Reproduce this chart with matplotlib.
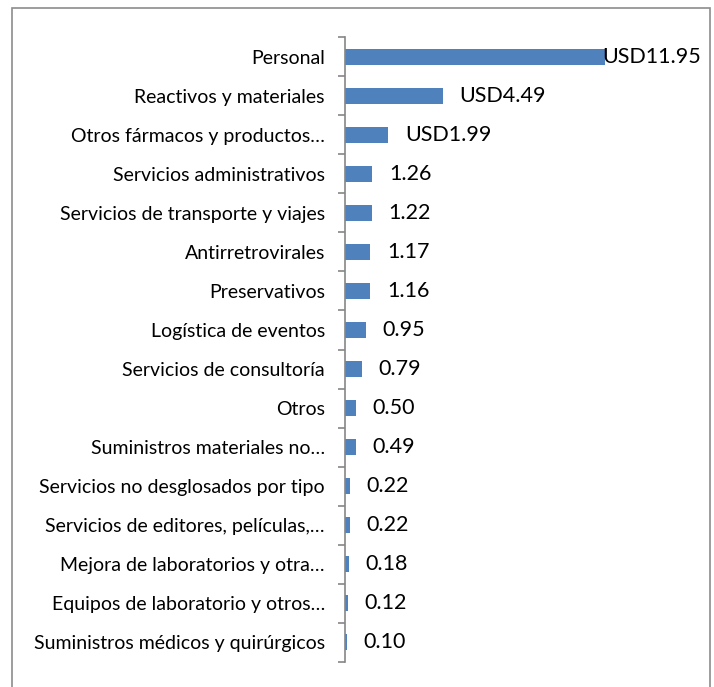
import matplotlib
matplotlib.use('Agg')
import matplotlib.pyplot as plt
from matplotlib.patches import Rectangle

categorias = [
    'Personal',
    'Reactivos y materiales',
    'Otros fármacos y productos…',
    'Servicios administrativos',
    'Servicios de transporte y viajes',
    'Antirretrovirales',
    'Preservativos',
    'Logística de eventos',
    'Servicios de consultoría',
    'Otros',
    'Suministros materiales no…',
    'Servicios no desglosados por tipo',
    'Servicios de editores, películas,…',
    'Mejora de laboratorios y otra…',
    'Equipos de laboratorio y otros…',
    'Suministros médicos y quirúrgicos',
]
valores = [11.95, 4.49, 1.99, 1.26, 1.22, 1.17, 1.16, 0.95, 0.79, 0.50, 0.49, 0.22, 0.22, 0.18, 0.12, 0.10]
etiquetas = ['USD11.95', 'USD4.49', 'USD1.99', '1.26', '1.22', '1.17', '1.16', '0.95',
             '0.79', '0.50', '0.49', '0.22', '0.22', '0.18', '0.12', '0.10']

plt.rcParams['font.family'] = ['Lato', 'DejaVu Sans']

fig = plt.figure(figsize=(7.14, 6.87), dpi=100)
ax = fig.add_axes([345 / 714, 1 - 662 / 687, 326 / 714, 625 / 687])

n = len(categorias)
pos = list(range(n))
ax.barh(pos, valores, height=0.41, color='#4F81BD')
ax.set_ylim(n - 0.5, -0.5)
ax.set_xlim(0, 15)

ax.set_yticks(pos)
ax.set_yticklabels(categorias, fontsize=14, color='#000000')
ax.tick_params(axis='y', which='major', length=0, pad=14.5)
ax.set_yticks([p - 0.5 for p in pos] + [n - 0.5], minor=True)
ax.tick_params(axis='y', which='minor', length=5, width=1.2, color='#868686')
ax.set_xticks([])

for s in ['top', 'right', 'bottom']:
    ax.spines[s].set_visible(False)
ax.spines['left'].set_color('#868686')
ax.spines['left'].set_linewidth(1.2)

for i, (v, t) in enumerate(zip(valores, etiquetas)):
    off = 12 if i > 0 else -1.5
    ax.annotate(t, (v, i), xytext=(off, 0), textcoords='offset points',
                va='center', ha='left', fontsize=15.5, color='#000000')

fig.patches.append(Rectangle((12 / 714, -0.05), (710 - 12) / 714, 1.05 - 8 / 687,
                             transform=fig.transFigure, fill=False,
                             edgecolor='#8c8c8c', linewidth=1.2))

fig.savefig('out.png', dpi=100, facecolor='white')
